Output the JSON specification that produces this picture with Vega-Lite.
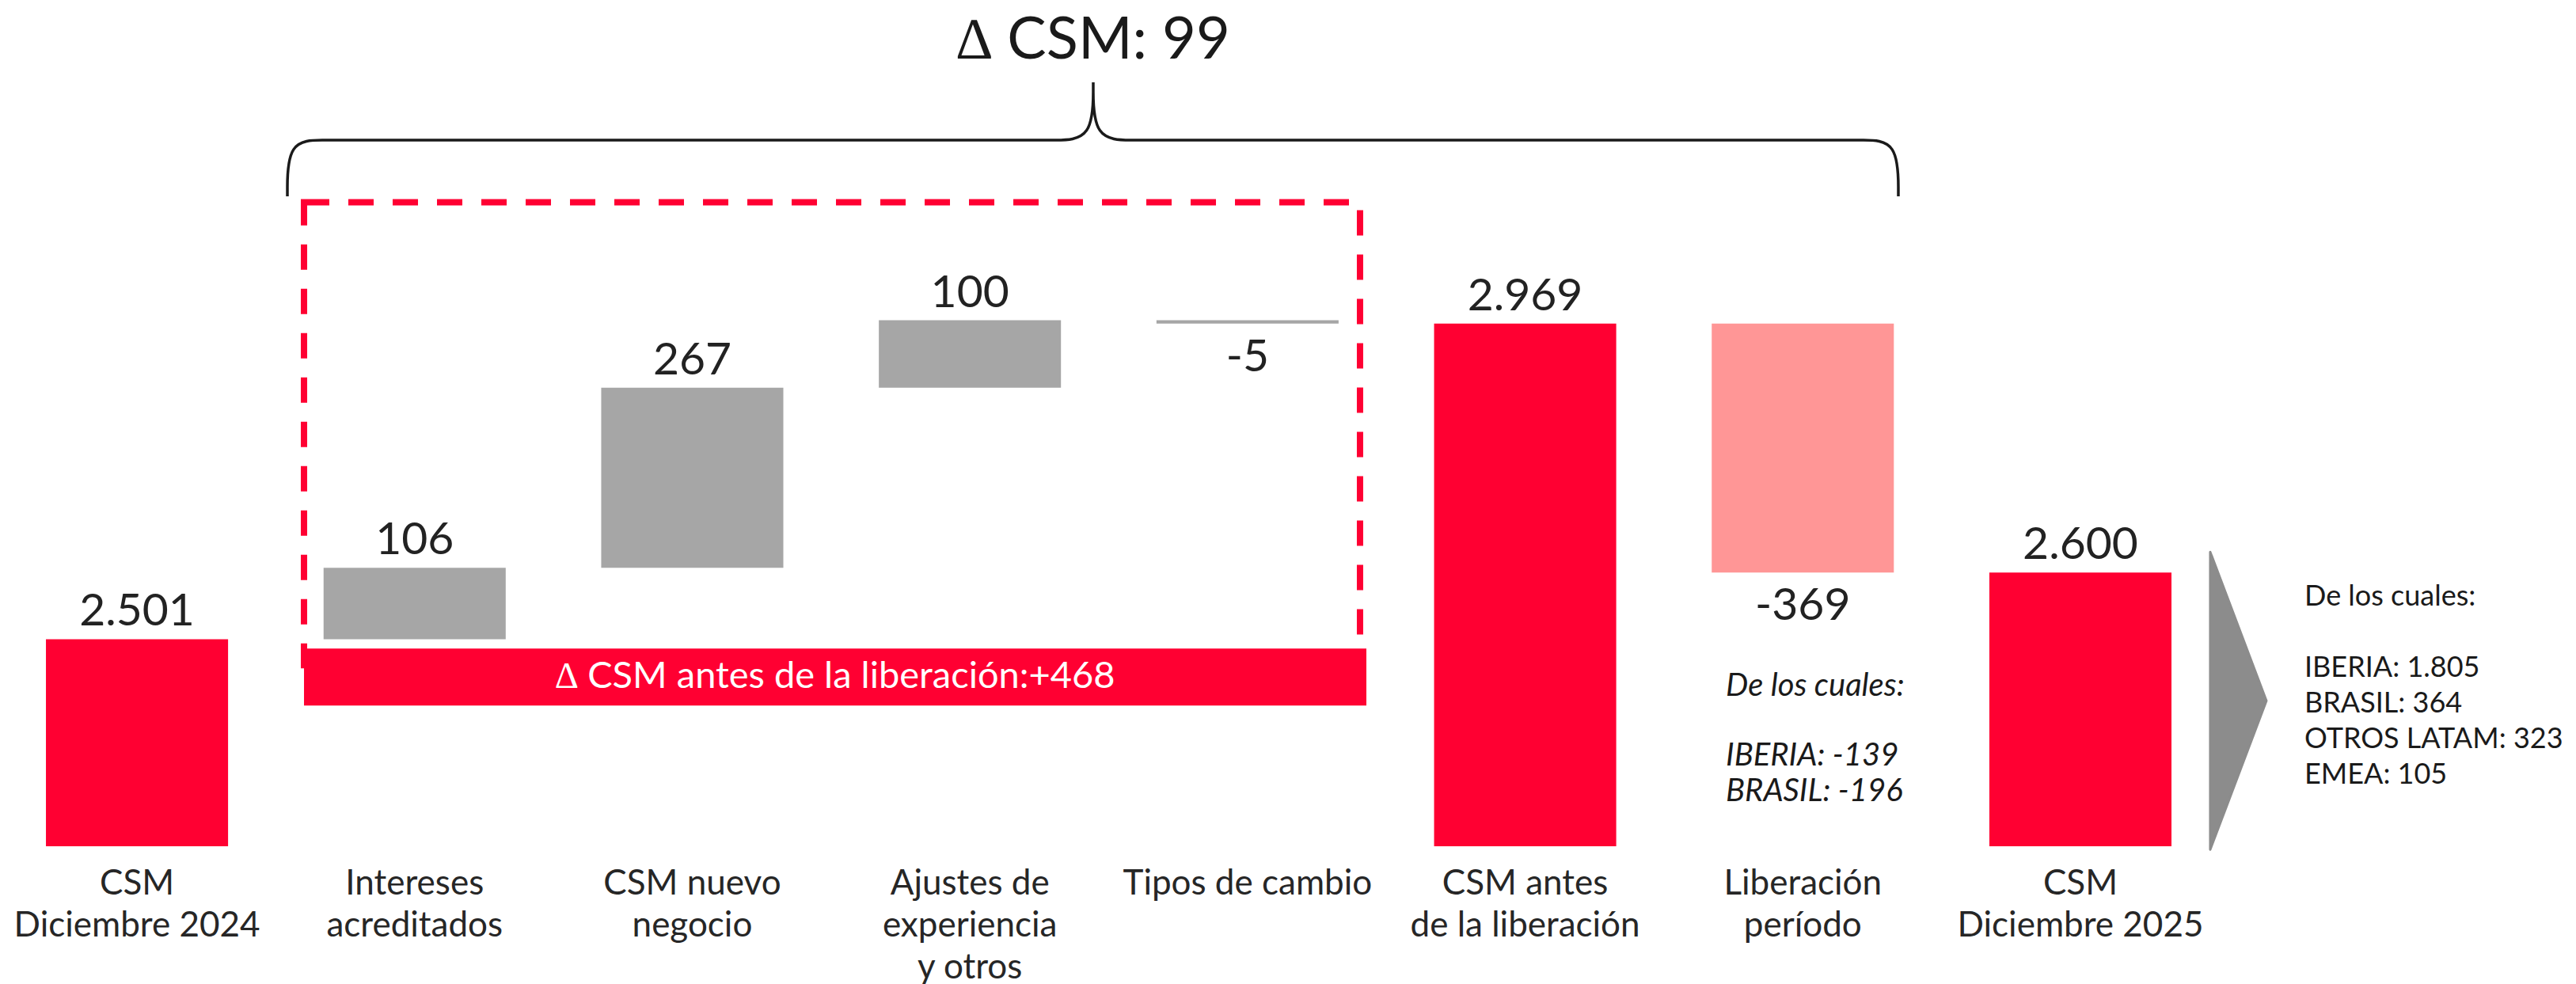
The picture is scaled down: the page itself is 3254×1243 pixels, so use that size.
{
  "$schema": "https://vega.github.io/schema/vega-lite/v6.json",
  "width": 3254,
  "height": 1069,
  "autosize": {"type": "none"},
  "padding": {"left": 0, "top": 0, "right": 0, "bottom": 174},
  "background": "white",
  "config": {
    "view": {"stroke": null},
    "font": "Lato",
    "locale": {"number": {"decimal": ",", "thousands": ".", "grouping": [3], "currency": ["", " €"], "minus": "-"}}
  },
  "datasets": {
    "steps": [
      {"step": "CSM|Diciembre 2024", "kind": "total", "amount": 2501, "end": 2501},
      {"step": "Intereses|acreditados", "kind": "change", "amount": 106, "start": 2501, "end": 2607},
      {"step": "CSM nuevo|negocio", "kind": "change", "amount": 267, "start": 2607, "end": 2874},
      {"step": "Ajustes de|experiencia|y otros", "kind": "change", "amount": 100, "start": 2874, "end": 2974},
      {"step": "Tipos de cambio", "kind": "change", "amount": -5, "start": 2974, "end": 2969},
      {"step": "CSM antes|de la liberación", "kind": "total", "amount": 2969, "end": 2969},
      {"step": "Liberación|período", "kind": "release", "amount": -369, "start": 2969, "end": 2600},
      {"step": "CSM|Diciembre 2025", "kind": "total", "amount": 2600, "end": 2600}
    ]
  },
  "resolve": {"scale": {"x": "independent"}},
  "layer": [
    {
      "data": {"name": "steps"},
      "encoding": {
        "x": {
          "field": "step", "type": "nominal",
          "scale": {
            "domain": ["CSM|Diciembre 2024", "Intereses|acreditados", "CSM nuevo|negocio", "Ajustes de|experiencia|y otros", "Tipos de cambio", "CSM antes|de la liberación", "Liberación|período", "CSM|Diciembre 2025"],
            "paddingInner": 0.344, "paddingOuter": 0.8113, "align": 0.102
          },
          "axis": {
            "title": null, "domain": false, "ticks": false, "tickSize": 0, "labelAngle": 0,
            "labelPadding": 60, "labelBaseline": "alphabetic", "labelFont": "Lato", "labelFontSize": 44,
            "labelColor": "#262626", "labelLineHeight": 53, "labelLimit": 0,
            "labelExpr": "split(datum.label, '|')"
          }
        }
      },
      "layer": [
        {
          "transform": [{"filter": "datum.kind === 'total'"}],
          "mark": {"type": "bar"},
          "encoding": {
            "y": {"field": "end", "type": "quantitative", "scale": {"domain": [2194, 3449], "nice": false, "zero": false}, "axis": null},
            "y2": {"datum": 2194},
            "color": {"field": "kind", "type": "nominal", "scale": {"domain": ["total", "change", "release"], "range": ["#FF0032", "#A6A6A6", "#FF9696"]}, "legend": null}
          }
        },
        {
          "transform": [{"filter": "datum.kind !== 'total'"}],
          "mark": {"type": "bar"},
          "encoding": {
            "y": {"field": "start", "type": "quantitative", "scale": {"domain": [2194, 3449], "nice": false, "zero": false}, "axis": null},
            "y2": {"field": "end"},
            "color": {"field": "kind", "type": "nominal", "scale": {"domain": ["total", "change", "release"], "range": ["#FF0032", "#A6A6A6", "#FF9696"]}, "legend": null}
          }
        },
        {
          "transform": [{"filter": "datum.amount >= 0"}],
          "mark": {"type": "text", "fontSize": 57, "color": "#222222", "baseline": "alphabetic", "dy": -17, "font": "Lato"},
          "encoding": {
            "y": {"field": "end", "type": "quantitative", "scale": {"domain": [2194, 3449], "nice": false, "zero": false}, "axis": null},
            "text": {"field": "amount", "type": "quantitative", "format": ",.0f"}
          }
        },
        {
          "transform": [{"filter": "datum.amount < 0"}],
          "mark": {"type": "text", "fontSize": 57, "color": "#222222", "baseline": "alphabetic", "dy": 60, "font": "Lato"},
          "encoding": {
            "y": {"field": "end", "type": "quantitative", "scale": {"domain": [2194, 3449], "nice": false, "zero": false}, "axis": null},
            "text": {"field": "amount", "type": "quantitative", "format": ",.0f"}
          }
        }
      ]
    },
    {
      "encoding": {
        "x": {"field": "x", "type": "quantitative", "scale": {"domain": [-0.4933, 8.7853], "nice": false, "zero": false}, "axis": null},
        "y": {"field": "y", "type": "quantitative", "scale": {"domain": [2194, 3449], "nice": false, "zero": false}, "axis": null}
      },
      "layer": [
        {
          "data": {"values": [{"x": 0.6017, "x2": 4.4054, "y": 3149.0, "y2": 2462.6}]},
          "mark": {"type": "rect", "fillOpacity": 0, "stroke": "#FF0032", "strokeWidth": 8, "strokeDash": [32, 24]},
          "encoding": {"x2": {"field": "x2"}, "y2": {"field": "y2"}}
        },
        {
          "data": {"values": [{"x": 0.6017, "x2": 4.4283, "y": 2487.3, "y2": 2402.7}]},
          "mark": {"type": "rect", "color": "#FF0032"},
          "encoding": {"x2": {"field": "x2"}, "y2": {"field": "y2"}}
        },
        {
          "data": {"values": [{"x": 2.515, "y": 2428.9, "label": "∆ CSM antes de la liberación:+468"}]},
          "mark": {"type": "text", "color": "white", "fontSize": 47, "align": "center", "baseline": "alphabetic", "font": "Lato"},
          "encoding": {"text": {"field": "label"}}
        },
        {
          "data": {"values": [
            {"k": 0, "x": 0.5418, "y": 3157.8}, {"k": 1, "x": 0.5418, "y": 3157.8}, {"k": 2, "x": 0.5418, "y": 3157.8},
            {"k": 3, "x": 0.5418, "y": 3241.2}, {"k": 4, "x": 0.6758, "y": 3241.2}, {"k": 5, "x": 0.7613, "y": 3241.2},
            {"k": 6, "x": 3.2136, "y": 3241.2}, {"k": 7, "x": 3.2991, "y": 3241.2}, {"k": 8, "x": 3.4445, "y": 3241.2},
            {"k": 9, "x": 3.4445, "y": 3326.9}, {"k": 10, "x": 3.4445, "y": 3326.9}, {"k": 11, "x": 3.4445, "y": 3326.9},
            {"k": 12, "x": 3.4445, "y": 3241.2}, {"k": 13, "x": 3.5899, "y": 3241.2}, {"k": 14, "x": 3.6755, "y": 3241.2},
            {"k": 15, "x": 6.1249, "y": 3241.2}, {"k": 16, "x": 6.2104, "y": 3241.2}, {"k": 17, "x": 6.3444, "y": 3241.2},
            {"k": 18, "x": 6.3444, "y": 3157.8}, {"k": 19, "x": 6.3444, "y": 3157.8}, {"k": 20, "x": 6.3444, "y": 3157.8}
          ]},
          "mark": {"type": "line", "color": "#1A1A1A", "strokeWidth": 3.5, "interpolate": "basis"},
          "encoding": {"order": {"field": "k", "type": "quantitative"}}
        },
        {
          "data": {"values": [{"x": 3.4445, "y": 3362.1, "label": "∆ CSM: 99"}]},
          "mark": {"type": "text", "color": "#1A1A1A", "fontSize": 74, "align": "center", "baseline": "alphabetic", "font": "Lato"},
          "encoding": {"text": {"field": "label"}}
        },
        {
          "data": {"values": [
            {"x": 5.7228, "y": 2416.8, "lines": ["De los cuales:"]},
            {"x": 5.7228, "y": 2313.5, "lines": ["IBERIA: -139", "BRASIL: -196"]}
          ]},
          "mark": {"type": "text", "color": "#1A1A1A", "fontSize": 40, "fontStyle": "italic", "align": "left", "baseline": "alphabetic", "lineHeight": 45, "font": "Lato"},
          "encoding": {"text": {"field": "lines"}}
        },
        {
          "data": {"values": [
            {"x": 7.8073, "y": 2550.7, "lines": ["De los cuales:"]},
            {"x": 7.8073, "y": 2445.0, "lines": ["IBERIA: 1.805", "BRASIL: 364", "OTROS LATAM: 323", "EMEA: 105"]}
          ]},
          "mark": {"type": "text", "color": "#1A1A1A", "fontSize": 36, "align": "left", "baseline": "alphabetic", "lineHeight": 45, "font": "Lato"},
          "encoding": {"text": {"field": "lines"}}
        },
        {
          "data": {"values": [{"x": 7.4678, "y": 2630.5, "y2": 2189}, {"x": 7.6703, "y": 2409.8, "y2": 2409.8}]},
          "mark": {"type": "area", "color": "#8C8C8C", "stroke": "#8C8C8C", "strokeWidth": 3, "strokeJoin": "round"},
          "encoding": {"y2": {"field": "y2"}}
        }
      ]
    }
  ]
}
